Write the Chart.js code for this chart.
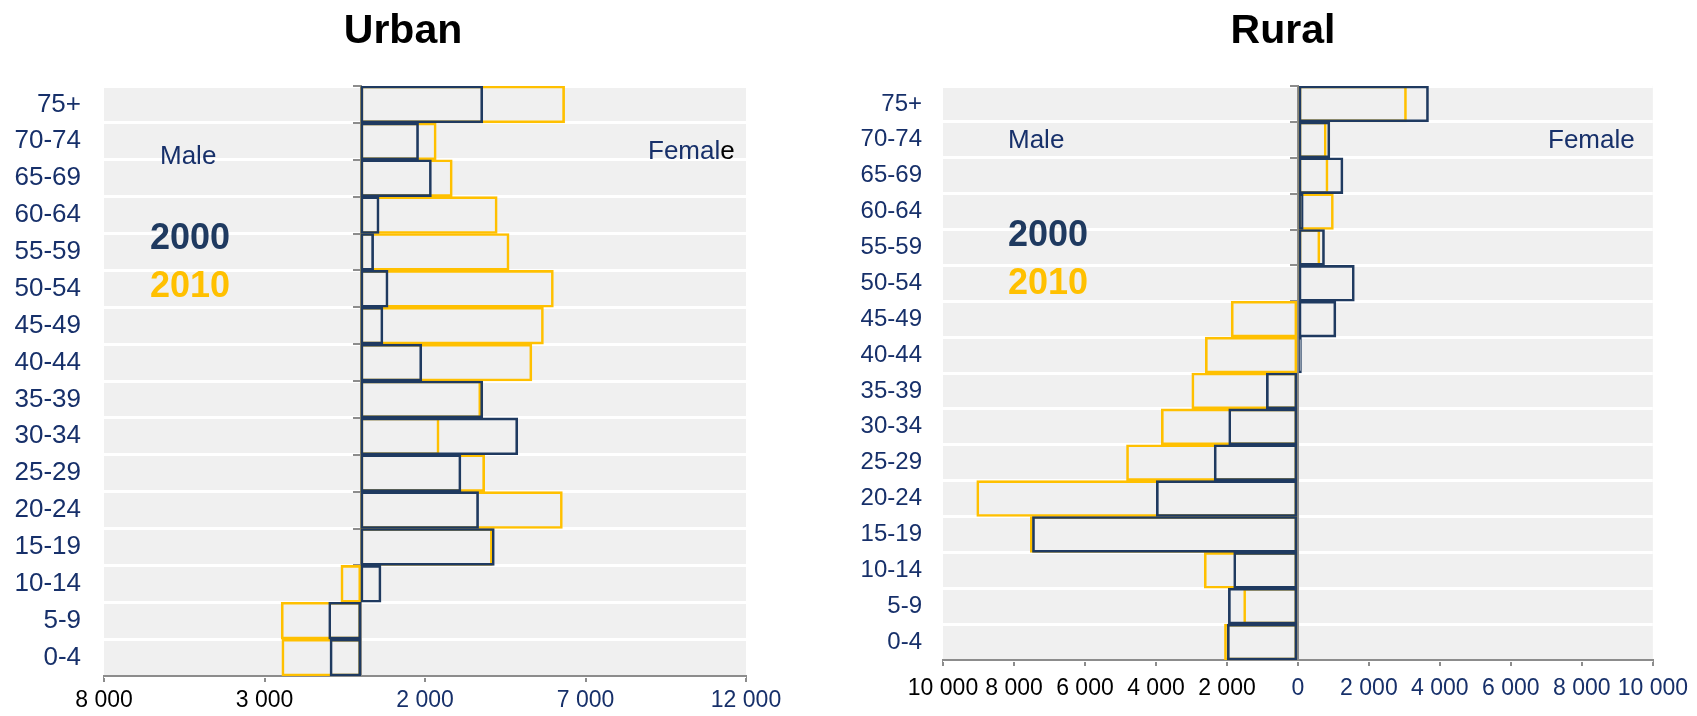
<!DOCTYPE html>
<html>
<head>
<meta charset="utf-8">
<script src="https://cdn.jsdelivr.net/npm/chart.js@4.4.1/dist/chart.umd.min.js"></script>
<style>
  html, body { margin: 0; padding: 0; background: #ffffff; }
  body { width: 1697px; height: 716px; position: relative; overflow: hidden; }
  canvas { position: absolute; top: 0; }
  #urban { left: 0; }
  #rural { left: 820px; }
</style>
</head>
<body>
<canvas id="urban" width="800" height="716"></canvas>
<canvas id="rural" width="877" height="716"></canvas>
<script>
// Age groups, oldest at the top
const ageGroups = ['75+', '70-74', '65-69', '60-64', '55-59', '50-54', '45-49', '40-44',
  '35-39', '30-34', '25-29', '20-24', '15-19', '10-14', '5-9', '0-4'];

// Urban: negative = left of the axis, positive = right
const urban2000 = [3800, 1800, 2200, 570, 400, 850, 690, 1900,
  3800, 4890, 3120, 3670, 4160, 630, -1000, -960];
const urban2010 = [6350, 2350, 2850, 4250, 4620, 6000, 5690, 5330,
  3740, 2440, 3860, 6280, 4100, -620, -2480, -2460];

// Rural
const rural2000 = [3680, 900, 1270, 150, 750, 1590, 1070, 100,
  -890, -1950, -2360, -3990, -7480, -1810, -1960, -1990];
const rural2010 = [3060, 800, 850, 1000, 620, 70, -1880, -2610,
  -2990, -3850, -4830, -9050, -7540, -2640, -1530, -2070];

// Axis ranges
const urbanAxis = { min: -8000, max: 12000, step: 5000 };
const ruralAxis = { min: -10000, max: 10000, step: 2000 };

const NAVY = '#1f3a60';
const LABEL_NAVY = '#17306a';
const GOLD = '#ffc000';
const AXIS_GREY = '#8c8c8c';
const FONT = "'Liberation Sans', Arial, sans-serif";

function fmt(v) {
  return String(Math.abs(v)).replace(/\B(?=(\d{3})+(?!\d))/g, ' ');
}

// Plot background and free text (title, sex labels, year key)
function decorPlugin(cfg) {
  return {
    id: 'decor',
    beforeDraw(chart) {
      const { ctx, chartArea: a } = chart;
      ctx.save();
      ctx.fillStyle = '#f0f0f0';
      ctx.fillRect(a.left, a.top, a.right - a.left, a.bottom - a.top);
      ctx.restore();
    },
    afterDraw(chart) {
      const ctx = chart.ctx;
      ctx.save();
      ctx.textBaseline = 'middle';
      ctx.textAlign = 'center';
      ctx.fillStyle = '#000000';
      ctx.font = 'bold 41px ' + FONT;
      ctx.fillText(cfg.title, cfg.titleX, 32);

      ctx.textAlign = 'left';
      ctx.textBaseline = 'alphabetic';
      ctx.font = cfg.sexFont + 'px ' + FONT;
      ctx.fillStyle = LABEL_NAVY;
      ctx.fillText('Male', cfg.maleX, cfg.maleY);
      if (cfg.splitFemale) {
        ctx.fillText('Femal', cfg.femaleX, cfg.femaleY);
        const w = ctx.measureText('Femal').width;
        ctx.fillStyle = '#000000';
        ctx.fillText('e', cfg.femaleX + w, cfg.femaleY);
      } else {
        ctx.fillText('Female', cfg.femaleX, cfg.femaleY);
      }

      ctx.font = 'bold 36px ' + FONT;
      ctx.fillStyle = NAVY;
      ctx.fillText('2000', cfg.yearX, cfg.y2000);
      ctx.fillStyle = GOLD;
      ctx.fillText('2010', cfg.yearX, cfg.y2010);
      ctx.restore();
    }
  };
}

function buildChart(id, d2000, d2010, axis, lay, decor) {
  return new Chart(document.getElementById(id), {
    type: 'bar',
    data: {
      labels: ageGroups,
      datasets: [
        {
          label: '2000', data: d2000, xAxisID: 'x', yAxisID: 'y',
          backgroundColor: 'rgba(0,0,0,0)', borderColor: NAVY,
          borderWidth: 2, borderSkipped: false
        },
        {
          label: '2010', data: d2010, xAxisID: 'x', yAxisID: 'y',
          backgroundColor: 'rgba(0,0,0,0)', borderColor: GOLD,
          borderWidth: 2, borderSkipped: false
        }
      ]
    },
    options: {
      indexAxis: 'y',
      responsive: false,
      animation: false,
      events: [],
      layout: { padding: { top: 86, left: 0, right: lay.padRight, bottom: 0 } },
      datasets: { bar: { grouped: false, categoryPercentage: 1, barPercentage: 1 } },
      plugins: { legend: { display: false }, tooltip: { enabled: false }, title: { display: false } },
      scales: {
        x: {
          type: 'linear', position: 'bottom',
          min: axis.min, max: axis.max,
          afterFit(s) { s.height = lay.xHeight; },
          border: { display: true, color: AXIS_GREY, width: 2 },
          grid: { drawOnChartArea: false, drawTicks: true, tickLength: 6, color: AXIS_GREY, lineWidth: 2 },
          ticks: {
            stepSize: axis.step, autoSkip: false, maxRotation: 0, minRotation: 0,
            padding: lay.xPad,
            font: { family: FONT, size: 23 },
            color: (c) => (c.tick && c.tick.value < 0 ? '#000000' : LABEL_NAVY),
            callback: (v) => fmt(v)
          }
        },
        y: {
          type: 'category', position: 'left', labels: ageGroups,
          offset: true,
          afterFit(s) { s.width = lay.yWidth; },
          border: { display: false },
          grid: { offset: true, drawTicks: false, color: '#ffffff', lineWidth: 3 },
          ticks: { padding: lay.yPad, font: { family: FONT, size: lay.yFont }, color: LABEL_NAVY }
        },
        yz: {
          type: 'category', position: { x: 0 }, labels: ageGroups,
          offset: true,
          border: { display: true, color: AXIS_GREY, width: 2 },
          grid: { offset: true, drawOnChartArea: false, drawTicks: true, tickLength: 7, color: AXIS_GREY, lineWidth: 2 },
          ticks: { display: false }
        }
      }
    },
    plugins: [decorPlugin(decor)]
  });
}

buildChart('urban', urban2000, urban2010, urbanAxis,
  { padRight: 54, xHeight: 40, xPad: 5, yWidth: 104, yPad: 23, yFont: 26 },
  { title: 'Urban', titleX: 403, sexFont: 26, maleX: 160, maleY: 164, femaleX: 648, femaleY: 159,
    splitFemale: true, yearX: 150, y2000: 249, y2010: 297 });

buildChart('rural', rural2000, rural2010, ruralAxis,
  { padRight: 39, xHeight: 56, xPad: 9, yWidth: 123, yPad: 21, yFont: 24 },
  { title: 'Rural', titleX: 463, sexFont: 26, maleX: 188, maleY: 148, femaleX: 728, femaleY: 148,
    splitFemale: false, yearX: 188, y2000: 246, y2010: 294 });
</script>
</body>
</html>
